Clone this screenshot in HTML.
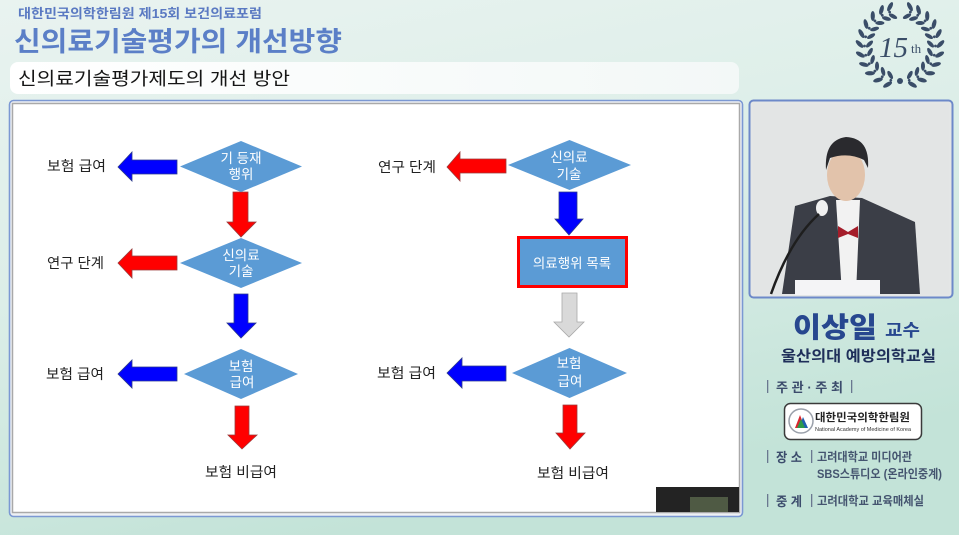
<!DOCTYPE html>
<html><head><meta charset="utf-8">
<style>
html,body{margin:0;padding:0;width:959px;height:535px;overflow:hidden;}
svg{display:block;}
text{font-family:"Liberation Sans","Noto Sans CJK KR",sans-serif;}
text.serif{font-family:"Liberation Serif","DejaVu Serif",serif;}
</style></head>
<body>
<svg width="959" height="535" viewBox="0 0 959 535" xmlns="http://www.w3.org/2000/svg">
<defs>
<linearGradient id="bg" x1="0" y1="0" x2="0.35" y2="1">
<stop offset="0" stop-color="#e9f3f0"/>
<stop offset="0.5" stop-color="#dceee8"/>
<stop offset="1" stop-color="#c3e3d8"/>
</linearGradient>
<linearGradient id="bar" x1="0" y1="0" x2="1" y2="0">
<stop offset="0" stop-color="#ffffff"/>
<stop offset="1" stop-color="#f3f8f7"/>
</linearGradient>
<g id="lf">
<ellipse cx="940.5" cy="44" rx="5" ry="2.1" transform="rotate(-45 940.5 44)" fill="#3a4d68"/>
<ellipse cx="930.5" cy="44" rx="4.6" ry="2" transform="rotate(45 930.5 44)" fill="#3a4d68"/>
<circle cx="935.5" cy="46" r="1.4" fill="#3a4d68"/>
</g>
<g id="lf2">
<ellipse cx="940.5" cy="48" rx="5" ry="2.1" transform="rotate(45 940.5 48)" fill="#3a4d68"/>
<ellipse cx="930.5" cy="48" rx="4.6" ry="2" transform="rotate(-45 930.5 48)" fill="#3a4d68"/>
<circle cx="935.5" cy="46" r="1.4" fill="#3a4d68"/>
</g>
</defs>

<rect x="0" y="0" width="959" height="535" fill="url(#bg)"/>

<!-- header -->
<text x="18" y="18" font-size="13" font-weight="bold" fill="#5a79c2" textLength="244" lengthAdjust="spacingAndGlyphs">대한민국의학한림원 제15회 보건의료포럼</text>
<text x="14" y="51" font-size="27" font-weight="bold" fill="#5b7fc7" textLength="328" lengthAdjust="spacingAndGlyphs">신의료기술평가의 개선방향</text>
<rect x="10" y="62" width="729" height="32" rx="8" fill="url(#bar)"/>
<text x="18" y="85" font-size="18" fill="#151515" textLength="272" lengthAdjust="spacingAndGlyphs">신의료기술평가제도의 개선 방안</text>

<!-- laurel -->
<g>
<use href="#lf2" transform="rotate(105 900 46)"/>
<use href="#lf2" transform="rotate(120 900 46)"/>
<use href="#lf2" transform="rotate(135 900 46)"/>
<use href="#lf2" transform="rotate(150 900 46)"/>
<use href="#lf2" transform="rotate(165 900 46)"/>
<use href="#lf2" transform="rotate(180 900 46)"/>
<use href="#lf2" transform="rotate(195 900 46)"/>
<use href="#lf2" transform="rotate(210 900 46)"/>
<use href="#lf2" transform="rotate(225 900 46)"/>
<use href="#lf2" transform="rotate(240 900 46)"/>
<use href="#lf2" transform="rotate(253 900 46)"/>
<use href="#lf" transform="rotate(75 900 46)"/>
<use href="#lf" transform="rotate(60 900 46)"/>
<use href="#lf" transform="rotate(45 900 46)"/>
<use href="#lf" transform="rotate(30 900 46)"/>
<use href="#lf" transform="rotate(15 900 46)"/>
<use href="#lf" transform="rotate(0 900 46)"/>
<use href="#lf" transform="rotate(-15 900 46)"/>
<use href="#lf" transform="rotate(-30 900 46)"/>
<use href="#lf" transform="rotate(-45 900 46)"/>
<use href="#lf" transform="rotate(-60 900 46)"/>
<use href="#lf" transform="rotate(-73 900 46)"/>
<circle cx="900" cy="81" r="3" fill="#3a4d68"/>
<text class="serif" x="879" y="57" font-size="29" font-style="italic" fill="#3a4d68">15</text>
<text class="serif" x="911" y="53" font-size="13" fill="#3a4d68">th</text>
</g>

<!-- slide frame -->
<rect x="9.5" y="100.5" width="733" height="416" rx="4" fill="#eef1f4" stroke="#7b98d3" stroke-width="1.6"/>
<rect x="12.5" y="103.5" width="727" height="409" fill="#ffffff" stroke="#a9a9a9" stroke-width="1.5"/>
<rect x="656" y="487" width="83" height="25" fill="#232323"/>
<rect x="690" y="497" width="38" height="15" fill="#4f5a44"/>

<!-- LEFT diagram -->
<g stroke-width="0.8">
<path d="M118,167 L132,152 L132,160 L177,160 L177,174 L132,174 L132,181 Z" fill="#0000ff" stroke="#2b3a8c"/>
<path d="M233,192 L248,192 L248,222 L256,222 L241,237 L227,222 L233,222 Z" fill="#ff0000" stroke="#9a3b3b"/>
<path d="M118,263 L132,249 L132,256 L177,256 L177,270 L132,270 L132,278 Z" fill="#ff0000" stroke="#9a3b3b"/>
<path d="M234,294 L248,294 L248,323 L256,323 L241,338 L227,323 L234,323 Z" fill="#0000ff" stroke="#2b3a8c"/>
<path d="M118,374 L132,360 L132,367 L177,367 L177,381 L132,381 L132,388 Z" fill="#0000ff" stroke="#2b3a8c"/>
<path d="M235,406 L249,406 L249,435 L257,435 L242,449 L228,435 L235,435 Z" fill="#ff0000" stroke="#9a3b3b"/>
</g>
<polygon points="180,166.5 241,141 302,166.5 241,192" fill="#5b9bd5"/>
<polygon points="180,263 241,238 302,263 241,288" fill="#5b9bd5"/>
<polygon points="184,374 241,349 298,374 241,399" fill="#5b9bd5"/>
<g font-size="13.5" fill="#ffffff" text-anchor="middle">
<text x="241" y="163">기 등재</text>
<text x="241" y="179">행위</text>
<text x="241" y="260">신의료</text>
<text x="241" y="276">기술</text>
<text x="241" y="371">보험</text>
<text x="242" y="387">급여</text>
</g>
<g font-size="14" fill="#222222">
<text x="47" y="171" textLength="59" lengthAdjust="spacingAndGlyphs">보험 급여</text>
<text x="47" y="268" textLength="57" lengthAdjust="spacingAndGlyphs">연구 단계</text>
<text x="46" y="379" textLength="58" lengthAdjust="spacingAndGlyphs">보험 급여</text>
<text x="205" y="477" textLength="72" lengthAdjust="spacingAndGlyphs">보험 비급여</text>
</g>

<!-- RIGHT diagram -->
<g stroke-width="0.8">
<path d="M447,167 L460,152 L460,159 L506,159 L506,173 L460,173 L460,181 Z" fill="#ff0000" stroke="#9a3b3b"/>
<path d="M559,192 L577,192 L577,219 L583,219 L569,235 L555,219 L559,219 Z" fill="#0000ff" stroke="#2b3a8c"/>
<path d="M562,293 L577,293 L577,322 L584,322 L569,337 L554,322 L562,322 Z" fill="#d9d9d9" stroke="#a9a9a9"/>
<path d="M447,373 L462,358 L462,366 L506,366 L506,381 L462,381 L462,388 Z" fill="#0000ff" stroke="#2b3a8c"/>
<path d="M563,405 L577,405 L577,433 L585,433 L570,449 L556,433 L563,433 Z" fill="#ff0000" stroke="#9a3b3b"/>
</g>
<polygon points="508,165 569.5,140 631,165 569.5,190" fill="#5b9bd5"/>
<polygon points="512,373 569.5,348 627,373 569.5,398" fill="#5b9bd5"/>
<rect x="518.5" y="237.5" width="108" height="49" fill="#5b9bd5" stroke="#ff0000" stroke-width="3"/>
<g font-size="13.5" fill="#ffffff" text-anchor="middle">
<text x="569" y="162">신의료</text>
<text x="569" y="179">기술</text>
<text x="572" y="268">의료행위 목록</text>
<text x="569" y="368">보험</text>
<text x="570" y="386">급여</text>
</g>
<g font-size="14" fill="#222222">
<text x="378" y="172" textLength="58" lengthAdjust="spacingAndGlyphs">연구 단계</text>
<text x="377" y="378" textLength="59" lengthAdjust="spacingAndGlyphs">보험 급여</text>
<text x="537" y="478" textLength="72" lengthAdjust="spacingAndGlyphs">보험 비급여</text>
</g>

<!-- photo -->
<rect x="749.5" y="100.5" width="203" height="197" rx="4" fill="#e4e6e6" stroke="#6d89c9" stroke-width="2"/>
<rect x="753" y="104" width="196" height="190" fill="#e3e5e5"/>
<path d="M795,206 L830,196 L862,198 L915,222 L920,294 L782,294 Z" fill="#3b3e47"/>
<path d="M836,200 L860,200 L856,294 L842,294 Z" fill="#f2f2f2"/>
<path d="M838,226 L848,232 L858,226 L858,238 L848,234 L838,238 Z" fill="#a41d2a"/>
<ellipse cx="846" cy="175" rx="19" ry="26" fill="#e2c3ab"/>
<path d="M826,170 Q824,140 846,137 Q870,138 868,168 L864,160 Q848,152 830,158 Z" fill="#2a2a2e"/>
<ellipse cx="822" cy="208" rx="6" ry="8" fill="#f0f0f0"/>
<path d="M819,214 Q790,240 771,294" stroke="#1e1e1e" stroke-width="2.5" fill="none"/>
<rect x="795" y="280" width="85" height="15" fill="#f4f4f6"/>

<!-- speaker info -->
<text x="793" y="337" font-size="28" font-weight="900" fill="#27478f" textLength="84" lengthAdjust="spacingAndGlyphs">이상일</text>
<text x="885" y="336" font-size="17" font-weight="bold" fill="#27478f" textLength="35" lengthAdjust="spacingAndGlyphs">교수</text>
<text x="781" y="361" font-size="15" font-weight="bold" fill="#1f2f5a" textLength="155" lengthAdjust="spacingAndGlyphs">울산의대 예방의학교실</text>

<g font-size="13" font-weight="bold" fill="#3c4c6c">
<rect x="767" y="380" width="1.3" height="13" fill="#6a7890"/>
<text x="776" y="392" textLength="67" lengthAdjust="spacingAndGlyphs">주 관 · 주 최</text>
<rect x="851" y="380" width="1.3" height="13" fill="#6a7890"/>

<rect x="767" y="450" width="1.3" height="13" fill="#6a7890"/>
<text x="776" y="462" textLength="26" lengthAdjust="spacingAndGlyphs">장 소</text>
<rect x="811" y="450" width="1.3" height="13" fill="#6a7890"/>

<rect x="767" y="494" width="1.3" height="13" fill="#6a7890"/>
<text x="776" y="506" textLength="26" lengthAdjust="spacingAndGlyphs">중 계</text>
<rect x="811" y="494" width="1.3" height="13" fill="#6a7890"/>
</g>
<g font-size="12" font-weight="bold" fill="#44546f">
<text x="817" y="461" textLength="95" lengthAdjust="spacingAndGlyphs">고려대학교 미디어관</text>
<text x="817" y="478" textLength="125" lengthAdjust="spacingAndGlyphs">SBS스튜디오 (온라인중계)</text>
<text x="817" y="505" textLength="107" lengthAdjust="spacingAndGlyphs">고려대학교 교육매체실</text>
</g>

<!-- logo box -->
<rect x="784.5" y="403.5" width="137" height="36" rx="6" fill="#ffffff" stroke="#3a3a3a" stroke-width="1.5"/>
<circle cx="801" cy="421" r="12" fill="#ffffff" stroke="#9aa0aa" stroke-width="1.5"/>
<polygon points="795,428 800,415 805,428" fill="#d9262e"/>
<polygon points="799,428 803,417 808,428" fill="#1f5fb0"/>
<polygon points="797,428 801,419 805,428" fill="#2c9a4a"/>
<text x="815" y="421" font-size="11" font-weight="bold" fill="#222222" textLength="95" lengthAdjust="spacingAndGlyphs">대한민국의학한림원</text>
<text x="815" y="431" font-size="5.5" fill="#333333" textLength="96" lengthAdjust="spacingAndGlyphs">National Academy of Medicine of Korea</text>
</svg>
</body></html>
